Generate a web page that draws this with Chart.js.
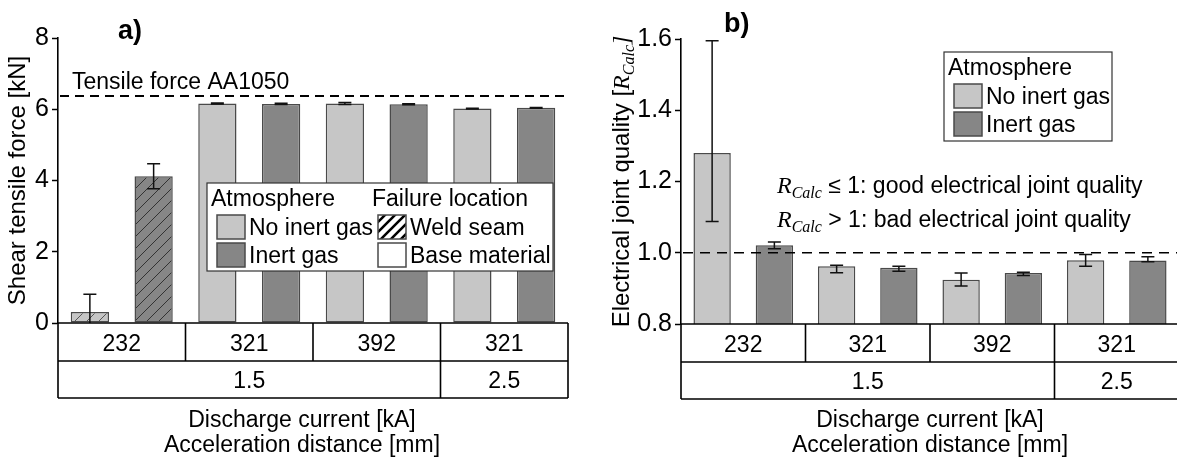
<!DOCTYPE html>
<html>
<head>
<meta charset="utf-8">
<script src="https://cdn.jsdelivr.net/npm/chart.js@4.4.0/dist/chart.umd.min.js"></script>
<style>
  html, body { margin: 0; padding: 0; background: #fff; overflow: hidden; }
  body { width: 1177px; height: 459px; position: relative; }
  #left { position: absolute; left: 0; top: 0; }
  #right { position: absolute; left: 590px; top: 0; }
</style>
</head>
<body>
<canvas id="left" width="580" height="459"></canvas>
<canvas id="right" width="600" height="459"></canvas>
<script>
// ---- data ----
const dischargeCurrent = ['232', '321', '392', '321'];
const accelDistance = ['1.5', '1.5', '1.5', '2.5'];
const seriesNames = ['No inert gas', 'Inert gas'];
const failureNames = ['Weld seam', 'Base material'];
const failureLocation = [0, 1, 1, 1];   // index into failureNames, per group

// a) shear tensile force [kN]
const forceNoInert    = [0.31, 6.16, 6.16, 6.02];
const forceNoInertErr = [0.50, 0.015, 0.03, 0.01];
const forceInert      = [4.12, 6.15, 6.14, 6.04];
const forceInertErr   = [0.35, 0.02, 0.015, 0.01];
const tensileForceAA1050 = 6.37;
const forceTicks = [0, 2, 4, 6, 8];

// b) electrical joint quality [R_Calc]
const qualityNoInert     = [1.28, 0.962, 0.924, 0.979];
const qualityNoInertLow  = [1.088, 0.944, 0.907, 0.962];
const qualityNoInertHigh = [1.595, 0.965, 0.943, 0.995];
const qualityInert       = [1.021, 0.958, 0.943, 0.978];
const qualityInertLow    = [1.011, 0.948, 0.936, 0.975];
const qualityInertHigh   = [1.030, 0.962, 0.945, 0.989];
const qualityTicks = [0.8, 1.0, 1.2, 1.4, 1.6];
const qualityLimit = 1.0;

// ---- styling ----
const SANS = '"Liberation Sans", Arial, sans-serif';
const SERIF = '"Liberation Serif", "DejaVu Serif", serif';
const FS = 23;
const LIGHT = '#c6c6c6';
const DARK = '#868686';
const EDGE = '#4a4a4a';

Chart.defaults.font.family = SANS;
Chart.defaults.font.size = FS;
Chart.defaults.color = '#000';

function hatch(base, line, size, width) {
    const c = document.createElement('canvas');
    c.width = c.height = size;
    const g = c.getContext('2d');
    g.fillStyle = base;
    g.fillRect(0, 0, size, size);
    g.strokeStyle = line;
    g.lineWidth = width;
    g.beginPath();
    g.moveTo(0, size); g.lineTo(size, 0);
    g.moveTo(-2, 2); g.lineTo(2, -2);
    g.moveTo(size - 2, size + 2); g.lineTo(size + 2, size - 2);
    g.stroke();
    return g.createPattern(c, 'repeat');
}
const hatchLight = hatch(LIGHT, '#555', 12, 1);
const hatchDark = hatch(DARK, '#333', 12, 1);
const hatchWhite = hatch('#fff', '#000', 10, 2.6);

function drawRich(ctx, parts, x, y, align) {
    let total = 0;
    parts.forEach(p => { ctx.font = p.font; p.w = ctx.measureText(p.t).width; total += p.w; });
    let cx = align === 'center' ? x - total / 2 : x;
    ctx.textAlign = 'left';
    parts.forEach(p => { ctx.font = p.font; ctx.fillText(p.t, cx, y + (p.dy || 0)); cx += p.w; });
}
const rCalc = [
    { t: 'R', font: `italic 24px ${SERIF}` },
    { t: 'Calc', font: `italic 16px ${SERIF}`, dy: 5 }
];

// ---- plugins ----
const errorBars = {
    id: 'errorBars',
    afterDatasetsDraw(chart) {
        const { ctx, chartArea: a, scales: { y } } = chart;
        ctx.save();
        ctx.beginPath();
        ctx.rect(a.left, a.top - 3, a.right - a.left, a.bottom - a.top + 3);
        ctx.clip();
        ctx.strokeStyle = '#111';
        ctx.lineWidth = 1.5;
        chart.data.datasets.forEach((ds, di) => {
            chart.getDatasetMeta(di).data.forEach((bar, i) => {
                const lo = y.getPixelForValue(ds.errLow[i]);
                const hi = y.getPixelForValue(ds.errHigh[i]);
                const cap = 6.5;
                ctx.beginPath();
                ctx.moveTo(bar.x, lo); ctx.lineTo(bar.x, hi);
                ctx.moveTo(bar.x - cap, lo); ctx.lineTo(bar.x + cap, lo);
                ctx.moveTo(bar.x - cap, hi); ctx.lineTo(bar.x + cap, hi);
                ctx.stroke();
            });
        });
        ctx.restore();
    }
};

const refLine = {
    id: 'refLine',
    afterDatasetsDraw(chart, args, o) {
        const { ctx, chartArea: a, scales: { y } } = chart;
        const py = y.getPixelForValue(o.value);
        ctx.save();
        ctx.strokeStyle = '#000';
        ctx.lineWidth = o.width;
        ctx.setLineDash(o.dash);
        ctx.beginPath();
        ctx.moveTo(a.left + 2, py);
        ctx.lineTo(a.right, py);
        ctx.stroke();
        if (o.label) {
            ctx.setLineDash([]);
            ctx.fillStyle = '#000';
            ctx.font = `${FS}px ${SANS}`;
            ctx.textAlign = 'left';
            ctx.fillText(o.label, a.left + 14, py - 7);
        }
        ctx.restore();
    }
};

const groupTable = {
    id: 'groupTable',
    afterDraw(chart, args, o) {
        const { ctx, chartArea: a, scales: { x } } = chart;
        const labels = chart.data.labels;
        const n = labels.length;
        const edges = [a.left];
        for (let i = 1; i < n; i++) edges.push((x.getPixelForValue(i - 1) + x.getPixelForValue(i)) / 2);
        edges.push(a.right);
        const r1 = a.bottom + 38, r2 = r1 + 37;
        ctx.save();
        ctx.strokeStyle = '#000';
        ctx.lineWidth = 1.6;
        ctx.beginPath();
        [a.bottom, r1, r2].forEach(yy => { ctx.moveTo(a.left, yy); ctx.lineTo(a.right, yy); });
        edges.forEach(e => { ctx.moveTo(e, a.bottom); ctx.lineTo(e, r1); });
        ctx.moveTo(a.left, r1); ctx.lineTo(a.left, r2);
        ctx.moveTo(a.right, r1); ctx.lineTo(a.right, r2);
        const runs = [];
        o.lower.forEach((v, i) => {
            if (runs.length && runs[runs.length - 1].v === v) runs[runs.length - 1].to = i;
            else runs.push({ v, from: i, to: i });
        });
        runs.slice(1).forEach(r => { ctx.moveTo(edges[r.from], r1); ctx.lineTo(edges[r.from], r2); });
        ctx.stroke();
        ctx.fillStyle = '#000';
        ctx.font = `${FS}px ${SANS}`;
        ctx.textAlign = 'center';
        labels.forEach((l, i) => ctx.fillText(l, (edges[i] + edges[i + 1]) / 2, a.bottom + 28));
        runs.forEach(r => ctx.fillText(r.v, (edges[r.from] + edges[r.to + 1]) / 2, r1 + 27));
        const cx = (a.left + a.right) / 2 + o.titleShift;
        o.titles.forEach((t, i) => ctx.fillText(t, cx, 427 + i * 25));
        ctx.restore();
    }
};

const boxLegend = {
    id: 'boxLegend',
    afterDraw(chart, args, o) {
        const { ctx } = chart;
        const x0 = o.x, y0 = o.y;
        ctx.save();
        ctx.fillStyle = '#fff';
        ctx.fillRect(x0, y0, o.w, o.h);
        ctx.strokeStyle = '#333';
        ctx.lineWidth = 1.2;
        ctx.strokeRect(x0, y0, o.w, o.h);
        ctx.font = `${FS}px ${SANS}`;
        ctx.textAlign = 'left';
        o.columns.forEach(col => {
            ctx.fillStyle = '#000';
            ctx.fillText(col.title, x0 + col.dx - 6, y0 + 23);
            col.items.forEach((it, k) => {
                const sy = y0 + 32 + k * 28;
                ctx.fillStyle = it.fill;
                ctx.fillRect(x0 + col.dx, sy, 28, 24);
                ctx.strokeStyle = EDGE;
                ctx.lineWidth = 1.5;
                ctx.strokeRect(x0 + col.dx, sy, 28, 24);
                ctx.fillStyle = '#000';
                ctx.fillText(it.label, x0 + col.dx + 32, sy + 20);
            });
        });
        ctx.restore();
    }
};

const extras = {
    id: 'extras',
    afterDraw(chart, args, o) {
        const { ctx, chartArea: a } = chart;
        ctx.save();
        ctx.fillStyle = '#000';
        ctx.font = `bold 27px ${SANS}`;
        ctx.textAlign = 'left';
        ctx.fillText(o.panel, o.panelX, o.panelY);
        if (o.yTitle) {
            ctx.save();
            ctx.translate(o.yTitleX, (a.top + a.bottom) / 2);
            ctx.rotate(-Math.PI / 2);
            drawRich(ctx, o.yTitle, 0, 0, 'center');
            ctx.restore();
        }
        (o.notes || []).forEach(n => drawRich(ctx, n.parts, n.x, n.y, 'left'));
        ctx.restore();
    }
};

// ---- charts ----
function barSet(label, data, low, high, color, hatchFill) {
    return {
        label, data,
        errLow: low, errHigh: high,
        backgroundColor: data.map((_, i) => failureLocation[i] === 0 && hatchFill ? hatchFill : color),
        borderColor: EDGE,
        borderWidth: 1.5,
        borderSkipped: false
    };
}

function baseOptions(padding, yWidth, xHeight, ticks, fmt) {
    return {
        responsive: false,
        animation: false,
        events: [],
        layout: { padding },
        datasets: { bar: { categoryPercentage: 1, barPercentage: 0.6 } },
        scales: {
            x: {
                ticks: { display: false },
                grid: { display: false },
                border: { display: false },
                afterFit: s => { s.height = xHeight; }
            },
            y: {
                min: ticks[0],
                max: ticks[ticks.length - 1],
                afterBuildTicks: s => { s.ticks = ticks.map(v => ({ value: v })); },
                ticks: { color: '#000', font: { size: 25 }, padding: 3, callback: fmt },
                grid: { drawOnChartArea: false, tickLength: 6, tickColor: '#000', tickWidth: 1.5 },
                border: { color: '#000', width: 1.6 },
                afterFit: s => { s.width = yWidth; }
            }
        },
        plugins: { legend: { display: false }, tooltip: { enabled: false } }
    };
}

// a) shear tensile force
const optsA = baseOptions({ top: 38, right: 12, left: 0, bottom: 0 }, 58, 136, forceTicks, v => String(v));
optsA.scales.y.title = { display: true, text: 'Shear tensile force [kN]', font: { size: 24 }, padding: { top: 4, bottom: 0 } };
optsA.plugins.refLine = { value: tensileForceAA1050, width: 2, dash: [9, 6], label: 'Tensile force AA1050' };
optsA.plugins.groupTable = { lower: accelDistance, titles: ['Discharge current [kA]', 'Acceleration distance [mm]'], titleShift: -11 };
optsA.plugins.boxLegend = {
    x: 207, y: 183, w: 346, h: 88,
    columns: [
        { title: 'Atmosphere', dx: 10, items: [{ label: seriesNames[0], fill: LIGHT }, { label: seriesNames[1], fill: DARK }] },
        { title: 'Failure location', dx: 171, items: [{ label: failureNames[0], fill: hatchWhite }, { label: failureNames[1], fill: '#fff' }] }
    ]
};
optsA.plugins.extras = { panel: 'a)', panelX: 118, panelY: 39 };

new Chart(document.getElementById('left'), {
    type: 'bar',
    data: {
        labels: dischargeCurrent,
        datasets: [
            barSet(seriesNames[0], forceNoInert,
                forceNoInert.map((v, i) => v - forceNoInertErr[i]), forceNoInert.map((v, i) => v + forceNoInertErr[i]), LIGHT, hatchLight),
            barSet(seriesNames[1], forceInert,
                forceInert.map((v, i) => v - forceInertErr[i]), forceInert.map((v, i) => v + forceInertErr[i]), DARK, hatchDark)
        ]
    },
    options: optsA,
    plugins: [errorBars, refLine, groupTable, boxLegend, extras]
});

// b) electrical joint quality
const optsB = baseOptions({ top: 39, right: 11, left: 0, bottom: 0 }, 91, 135, qualityTicks, v => v.toFixed(1));
optsB.plugins.refLine = { value: qualityLimit, width: 1.6, dash: [10, 7] };
optsB.plugins.groupTable = { lower: accelDistance, titles: ['Discharge current [kA]', 'Acceleration distance [mm]'], titleShift: 0 };
optsB.plugins.boxLegend = {
    x: 354, y: 52, w: 168, h: 89,
    columns: [
        { title: 'Atmosphere', dx: 10, items: [{ label: seriesNames[0], fill: LIGHT }, { label: seriesNames[1], fill: DARK }] }
    ]
};
optsB.plugins.extras = {
    panel: 'b)', panelX: 134, panelY: 32,
    yTitleX: 39,
    yTitle: [{ t: 'Electrical joint quality [', font: `24px ${SANS}` }, ...rCalc, { t: ']', font: `italic 24px ${SERIF}` }],
    notes: [
        { x: 187, y: 193, parts: [...rCalc, { t: ' \u2264 1: good electrical joint quality', font: `${FS}px ${SANS}` }] },
        { x: 187, y: 227, parts: [...rCalc, { t: ' > 1: bad electrical joint quality', font: `${FS}px ${SANS}` }] }
    ]
};

new Chart(document.getElementById('right'), {
    type: 'bar',
    data: {
        labels: dischargeCurrent,
        datasets: [
            barSet(seriesNames[0], qualityNoInert, qualityNoInertLow, qualityNoInertHigh, LIGHT, null),
            barSet(seriesNames[1], qualityInert, qualityInertLow, qualityInertHigh, DARK, null)
        ]
    },
    options: optsB,
    plugins: [errorBars, refLine, groupTable, boxLegend, extras]
});
</script>
</body>
</html>
